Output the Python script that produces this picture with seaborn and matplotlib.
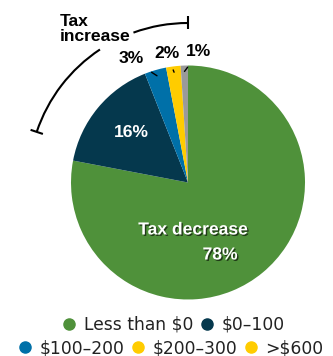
import numpy as np
import matplotlib
matplotlib.use("Agg")
import matplotlib.pyplot as plt
import matplotlib.patheffects as pe
from matplotlib.patches import Arc
from matplotlib.lines import Line2D
import seaborn as sns

# ---- data ----
categories = ["Less than $0", "$0\u2013100", "$100\u2013200", "$200\u2013300", ">$600"]
shares = [78, 16, 3, 2, 1]
slice_colors = ["#4F913A", "#05384D", "#0070A8", "#FFCC00", "#9A9A9A"]
legend_colors = ["#4F913A", "#05384D", "#0070A8", "#FFCC00", "#FFCC00"]
pct_labels = ["78%", "16%", "3%", "2%", "1%"]

sns.set_theme(style="white")
plt.rcParams["font.family"] = ["Liberation Sans", "DejaVu Sans"]

W, H, DPI = 333, 356, 100
fig = plt.figure(figsize=(W / DPI, H / DPI), dpi=DPI)
ax = fig.add_axes([0, 0, 1, 1])
ax.axis("off")

CX, CY, R = 188.0, 182.5, 117.0


def P(x, y):
    return ((x - CX) / R, (CY - y) / R)


wedges, _ = ax.pie(shares, colors=slice_colors, startangle=90, counterclock=False,
                   radius=1.0, center=(0, 0), frame=True,
                   wedgeprops=dict(linewidth=0))
ax.set_xlim(-CX / R, (W - CX) / R)
ax.set_ylim((CY - H) / R, CY / R)
ax.set_aspect("auto")
ax.axis("off")

bold = dict(fontsize=12.6, fontweight="bold", family=["Liberation Sans", "DejaVu Sans"])
shadow = [pe.withSimplePatchShadow(offset=(1, -1), alpha=0.6, shadow_rgbFace="black")]

# inside labels
ax.text(*P(193, 230), "Tax decrease", color="white", ha="center", va="center",
        path_effects=shadow, **bold)
ax.text(*P(220, 255), pct_labels[0], color="white", ha="center", va="center",
        path_effects=shadow, **bold)
ax.text(*P(131.5, 132.5), pct_labels[1], color="white", ha="center", va="center", **bold)

# outside labels with leader lines
text_pos = {2: (131, 59), 3: (167, 54), 4: (199, 52)}
for i, (tx, ty) in text_pos.items():
    w = wedges[i]
    mid = np.deg2rad((w.theta1 + w.theta2) / 2)
    xy = (0.95 * np.cos(mid), 0.95 * np.sin(mid))
    ax.annotate(pct_labels[i], xy=xy, xytext=P(tx, ty), ha="center", va="center",
                color="black",
                arrowprops=dict(arrowstyle="-", color="black", lw=1.0,
                                shrinkA=4, shrinkB=0), **bold)

# "Tax increase" bracket arc
RA = 159.5 / R
ax.add_patch(Arc((0, 0), 2 * RA, 2 * RA, theta1=90, theta2=110, color="black", lw=1.5))
ax.add_patch(Arc((0, 0), 2 * RA, 2 * RA, theta1=123.5, theta2=161.5, color="black", lw=1.5))
tick = 6.5 / R
for ang in (90, 161.5):
    a = np.deg2rad(ang)
    ax.plot([(RA - tick) * np.cos(a), (RA + tick) * np.cos(a)],
            [(RA - tick) * np.sin(a), (RA + tick) * np.sin(a)], color="black", lw=1.5,
            solid_capstyle="butt")
ax.text(*P(60, 29), "Tax\nincrease", ha="left", va="center", linespacing=0.95,
        color="black", **bold)

# legend in two centered rows
def handle(c):
    return Line2D([], [], marker="o", linestyle="", markersize=8,
                  markerfacecolor=c, markeredgecolor=c)

leg_kw = dict(frameon=False, loc="center", handlelength=0.7, handletextpad=0.5,
              columnspacing=0.45, borderpad=0, borderaxespad=0,
              prop=dict(family="DejaVu Sans", size=12.3))
l1 = fig.legend([handle(c) for c in legend_colors[:2]], categories[:2], ncol=2,
                bbox_to_anchor=(174 / W, 1 - 325 / H), **leg_kw)
l2 = fig.legend([handle(c) for c in legend_colors[2:]], categories[2:], ncol=3,
                bbox_to_anchor=(171 / W, 1 - 348 / H), **leg_kw)
for lg in (l1, l2):
    for t in lg.get_texts():
        t.set_color("#222222")

fig.savefig("out.png", dpi=DPI)
